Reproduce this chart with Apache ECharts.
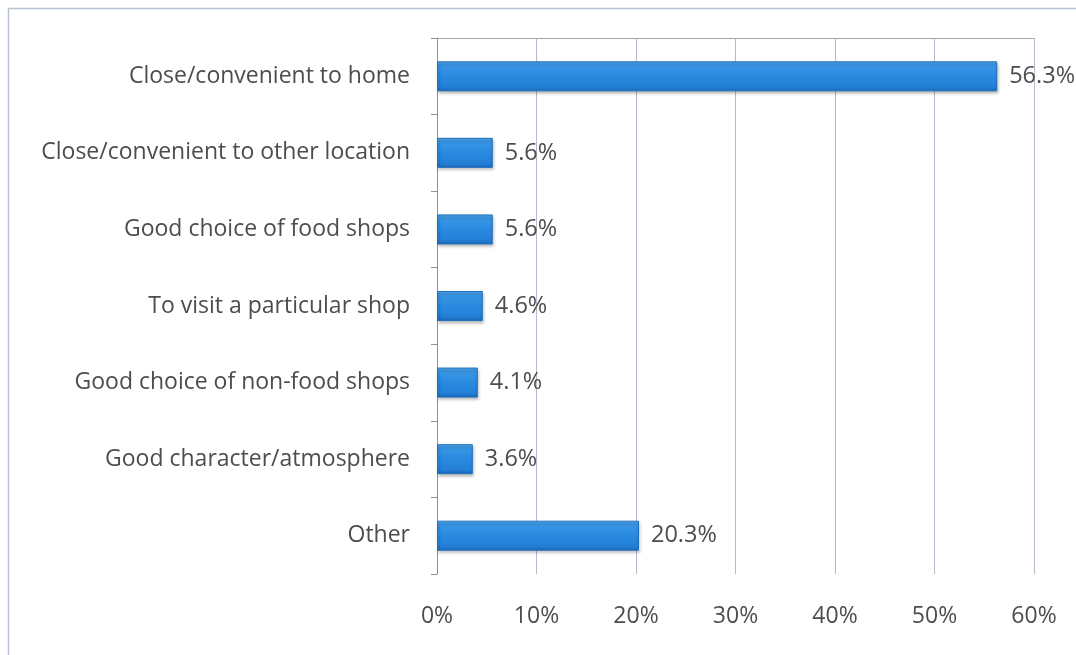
<!DOCTYPE html>
<html>
<head>
<meta charset="utf-8">
<script src="https://cdn.jsdelivr.net/npm/echarts@6/dist/echarts.min.js"></script>
<style>
  html, body { margin: 0; padding: 0; background: #ffffff; }
  #chart { width: 1076px; height: 655px; }
</style>
</head>
<body>
<div id="chart"></div>
<script>
// Reasons for visiting, share of respondents (%)
const categories = [
  'Close/convenient to home',
  'Close/convenient to other location',
  'Good choice of food shops',
  'To visit a particular shop',
  'Good choice of non-food shops',
  'Good character/atmosphere',
  'Other'
];
const values = [56.3, 5.6, 5.6, 4.6, 4.1, 3.6, 20.3];
const xTicks = [0, 10, 20, 30, 40, 50, 60];

const FONT = '"Open Sans", Lato, sans-serif';
const TEXT = '#4d4d4d';

const chart = echarts.init(document.getElementById('chart'), null, { renderer: 'canvas' });

chart.setOption({
  backgroundColor: '#ffffff',
  animation: false,
  graphic: [{
    type: 'rect',
    shape: { x: 8.5, y: 8.5, width: 1100, height: 700 },
    style: { fill: 'none', stroke: '#b9c3d2', lineWidth: 1.5 },
    z: 0
  }],
  grid: { left: 437, right: 42, top: 38, bottom: 81, containLabel: false },
  xAxis: [{
    type: 'value',
    min: xTicks[0],
    max: xTicks[xTicks.length - 1],
    interval: 10,
    axisLine: { show: false },
    axisTick: { show: false },
    axisLabel: {
      formatter: v => v + '%',
      color: TEXT, fontFamily: FONT, fontSize: 23, margin: 31
    },
    splitLine: { show: true, lineStyle: { color: '#b4bccb', width: 1 } }
  }, {
    type: 'value',
    position: 'top',
    min: xTicks[0],
    max: xTicks[xTicks.length - 1],
    axisLine: { show: true, lineStyle: { color: '#a6a6a6', width: 1 } },
    axisTick: { show: false },
    axisLabel: { show: false },
    splitLine: { show: false }
  }],
  yAxis: {
    type: 'category',
    inverse: true,
    data: categories,
    axisLine: { show: true, lineStyle: { color: '#909090', width: 1 } },
    axisTick: { show: true, length: 6, lineStyle: { color: '#909090' } },
    axisLabel: { color: TEXT, fontFamily: FONT, fontSize: 23, margin: 27 }
  },
  series: [{
    type: 'bar',
    data: values,
    barWidth: 30,
    itemStyle: {
      color: new echarts.graphic.LinearGradient(0, 0, 0, 1, [
        { offset: 0, color: '#5aaeee' },
        { offset: 0.12, color: '#3996e4' },
        { offset: 0.5, color: '#2a8ae0' },
        { offset: 0.85, color: '#237fd6' },
        { offset: 1, color: '#1a68b8' }
      ]),
      borderColor: '#1f70bf',
      borderWidth: 1,
      shadowColor: 'rgba(0,0,0,0.3)',
      shadowBlur: 3,
      shadowOffsetX: 1,
      shadowOffsetY: 2
    },
    label: {
      show: true,
      position: 'right',
      distance: 12,
      formatter: p => p.value.toFixed(1) + '%',
      color: TEXT, fontFamily: FONT, fontSize: 23.5
    }
  }]
});
</script>
</body>
</html>
